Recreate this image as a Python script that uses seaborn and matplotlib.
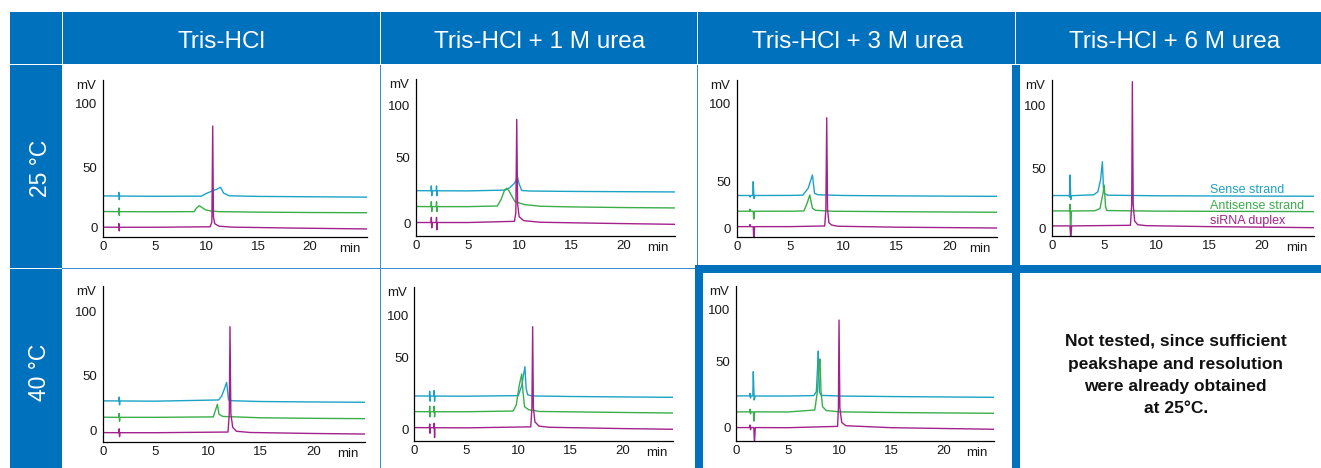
import numpy as np
import pandas as pd
import matplotlib
matplotlib.use("Agg")
import matplotlib.pyplot as plt
from matplotlib.patches import Rectangle
from matplotlib.ticker import MultipleLocator
import seaborn as sns

# ---------------- data (time [min], signal [mV]) ----------------
columns = ["Tris-HCl", "Tris-HCl + 1 M urea", "Tris-HCl + 3 M urea", "Tris-HCl + 6 M urea"]
rows = ["25 °C", "40 °C"]
legend_labels = ["Sense strand", "Antisense strand", "siRNA duplex"]
y_ticks = [0, 50, 100]
x_ticks = [0, 5, 10, 15, 20]
not_tested = ["Not tested, since sufficient", "peakshape and resolution",
              "were already obtained", "at 25°C."]

# 25 °C, Tris-HCl
A_sense = [(0, 26.3), (1.50, 26.2), (1.53, 29.2), (1.57, 23.2), (1.60, 26.2), (5, 26.0), (9.5, 26.1),
           (10.0, 28.4), (10.6, 30.5), (11.0, 31.8), (11.35, 33.4), (11.65, 28.6), (12.2, 26.4),
           (15, 25.9), (20, 25.6), (25.6, 25.3)]
A_anti = [(0, 13.5), (1.50, 13.4), (1.53, 16.4), (1.57, 10.4), (1.60, 13.4), (5, 13.3), (8.8, 13.4),
          (9.0, 16.0), (9.3, 18.3), (9.6, 16.6), (9.9, 14.9), (10.4, 14.0), (11.2, 13.4), (15, 13.0),
          (20, 12.7), (25.6, 12.5)]
A_duplex = [(0, 0.7), (1.50, 0.6), (1.53, 3.6), (1.57, -2.4), (1.60, 0.6), (5, 0.6), (10.35, 1.0),
            (10.52, 5), (10.6, 82.5), (10.67, 9), (10.8, 3.5), (11.2, 1.5), (12.5, 0.7), (18, 0.0),
            (25.6, -0.8)]
# 25 °C, 1 M urea
B_sense = [(0, 24.9), (1.45, 24.8), (1.48, 28.5), (1.52, 21), (1.55, 24.8), (1.95, 24.8), (1.98, 28.5),
           (2.02, 21), (2.05, 24.8), (5, 24.7), (8.6, 25.3), (9.0, 26.9), (9.5, 30.5), (9.8, 35.1),
           (9.95, 30), (10.2, 25), (11, 24.6), (15, 24.3), (20, 24.1), (25.1, 23.9)]
B_anti = [(0, 12.8), (1.45, 12.7), (1.48, 16.5), (1.52, 9), (1.55, 12.7), (1.95, 12.7), (1.98, 16.5),
          (2.02, 9), (2.05, 12.7), (5, 12.7), (7.85, 13.2), (8.2, 18), (8.55, 25.4), (8.75, 26.7),
          (8.95, 25), (9.55, 16.5), (10.5, 14.2), (12, 13), (15, 12.5), (20, 12), (25.1, 11.7)]
B_duplex = [(0, 0.6), (1.45, 0.6), (1.48, 4.5), (1.52, -3.5), (1.55, 0.6), (1.95, 0.6), (1.98, 4.5),
            (2.02, -5), (2.05, 0.6), (5, 0.6), (9.5, 1.5), (9.63, 8), (9.72, 86.4), (9.8, 15),
            (9.95, 5), (10.4, 2), (12, 0.8), (18, 0), (25.1, -0.8)]
# 25 °C, 3 M urea
C_sense = [(0, 35.2), (1.2, 35.2), (1.25, 33.5), (1.3, 35.2), (1.5, 35.2), (1.55, 50), (1.62, 32),
           (1.7, 35.2), (5, 35.3), (6.2, 35.6), (6.7, 42.9), (7.1, 54.3), (7.3, 37.5), (7.6, 36),
           (10, 35.2), (15, 34.8), (20, 34.5), (24.5, 34.3)]
C_anti = [(0, 18.3), (1.2, 18.3), (1.25, 20.5), (1.3, 18.3), (1.55, 18.3), (1.6, 10), (1.67, 18.3),
          (5, 18.3), (6.3, 18.6), (6.6, 26.8), (6.85, 35.7), (7.1, 21.5), (7.4, 19.3), (9, 18.3),
          (15, 17.8), (24.5, 17.2)]
C_duplex = [(0, 1.8), (1.2, 1.8), (1.25, 4), (1.3, 1.8), (1.55, 1.8), (1.6, -12), (1.68, 1.8), (5, 1.8),
            (8.25, 2.5), (8.36, 20), (8.44, 90.8), (8.52, 20), (8.65, 6), (8.9, 3.5), (9.5, 2.2),
            (15, 1.2), (24.5, 0.3)]
# 25 °C, 6 M urea
D_sense = [(0, 27.3), (1.65, 27.3), (1.7, 26), (1.75, 44.4), (1.82, 24), (1.9, 27.2), (4.0, 27.9),
           (4.4, 30.5), (4.65, 40.3), (4.83, 55.2), (4.92, 34.7), (5.0, 29.2), (5.3, 27.6), (10, 27.1),
           (25.1, 26.7)]
D_anti = [(0, 14.5), (1.7, 14.5), (1.74, 20), (1.8, -8), (1.88, 14.4), (4.1, 14.6), (4.6, 16.5),
          (4.9, 30), (5.0, 36), (5.13, 18), (5.25, 14.8), (10, 14.3), (25.1, 13.9)]
D_duplex = [(0, 2.0), (1.75, 2.0), (1.82, -8), (1.9, 2.0), (7.5, 2.5), (7.62, 20), (7.68, 118.4),
            (7.76, 20), (7.9, 6), (8.2, 3), (9, 2.2), (15, 1.4), (25.1, 0.5)]
# 40 °C, Tris-HCl
E_sense = [(0, 26.8), (1.53, 26.7), (1.56, 30.2), (1.6, 23.2), (1.63, 26.7), (5, 26.5), (11.0, 27.6),
           (11.3, 31.1), (11.55, 37.4), (11.77, 43.4), (11.95, 27.6), (12.3, 26.9), (15, 26.2),
           (20, 25.8), (25, 25.5)]
E_anti = [(0, 12.1), (1.53, 12.0), (1.56, 15.5), (1.6, 8.5), (1.63, 12.0), (5, 12), (10.5, 12.4),
          (10.75, 19.5), (10.89, 23.7), (11.05, 14.7), (11.4, 12.8), (15, 11.6), (20, 11.1), (25, 10.8)]
E_duplex = [(0, -1.7), (1.53, -1.8), (1.56, 1.7), (1.6, -5.3), (1.63, -1.8), (5, -1.8), (11.9, -1.2),
            (12.02, 15), (12.09, 88.2), (12.17, 15), (12.35, 3), (12.7, -0.5), (14, -1.6),
            (20, -2.5), (25, -3)]
# 40 °C, 1 M urea
F_sense = [(0, 23.2), (1.45, 23.1), (1.48, 26.5), (1.52, 19.5), (1.55, 23.1), (1.88, 23.1), (1.91, 27),
           (1.95, 19.5), (1.98, 23.1), (5, 23.0), (10.0, 23.4), (10.35, 30.9), (10.5, 37.9),
           (10.64, 43.7), (10.75, 28.5), (10.9, 24), (11.3, 23.2), (15, 22.8), (20, 22.5), (25, 22.2)]
F_anti = [(0, 12.2), (1.45, 12.1), (1.48, 16), (1.52, 8.5), (1.55, 12.1), (1.88, 12.1), (1.91, 16),
          (1.95, 8.5), (1.98, 12.1), (5, 12.1), (9.5, 12.6), (9.8, 16.8), (10.1, 30.9), (10.33, 38.6),
          (10.45, 26.2), (10.6, 15.6), (11.0, 13.5), (12, 12.3), (20, 11.6), (25, 11.2)]
F_duplex = [(0, 1.0), (1.45, 0.9), (1.48, 3.5), (1.52, -3), (1.55, 0.9), (1.88, 0.9), (1.91, 4),
            (1.95, -6), (1.98, 0.9), (5, 0.8), (11.2, 1.5), (11.31, 15), (11.38, 86.3), (11.45, 15),
            (11.6, 5), (12, 2), (13, 1.2), (20, 0.3), (25, -0.2)]
# 40 °C, 3 M urea
G_sense = [(0, 24.1), (1.3, 24.1), (1.35, 26), (1.4, 22.5), (1.45, 24.1), (1.62, 24.1), (1.67, 42.4),
           (1.75, 21), (1.85, 24), (5, 24), (7.5, 24.3), (7.75, 27.3), (7.88, 47.5), (7.94, 60.3),
           (8.05, 27.3), (8.2, 24.5), (10, 24), (15, 23.6), (25, 23.0)]
G_anti = [(0, 12), (1.3, 12), (1.35, 14), (1.4, 10.5), (1.45, 12), (1.68, 12), (1.73, 5), (1.8, 12),
          (5, 11.9), (7.6, 13.4), (7.85, 27.3), (8.0, 45), (8.1, 52.6), (8.2, 28), (8.35, 16),
          (8.7, 13), (10, 12), (15, 11.5), (25, 10.9)]
G_duplex = [(0, 0.1), (1.3, 0.1), (1.35, 2), (1.4, -1.5), (1.45, 0.1), (1.72, 0.1), (1.78, -12),
            (1.86, 0.1), (5, 0), (9.8, 1), (9.88, 15), (9.94, 90.3), (10.02, 15), (10.2, 4),
            (10.6, 1.5), (15, 0), (25, -1.2)]

panel_series = {
    "A": (A_sense, A_anti, A_duplex), "B": (B_sense, B_anti, B_duplex),
    "C": (C_sense, C_anti, C_duplex), "D": (D_sense, D_anti, D_duplex),
    "E": (E_sense, E_anti, E_duplex), "F": (F_sense, F_anti, F_duplex),
    "G": (G_sense, G_anti, G_duplex),
}

# ---------------- layout (figure pixels) ----------------
W, H = 1321, 468
# left px, px of t=20, right px, top px, bottom px, px of 0 / 50 / 100 mV
layout = {
    "A": (103, 310, 367, 80, 237, 228, 167, 104),
    "B": (416, 623.3, 675, 79, 235.7, 223.3, 157.7, 105),
    "C": (736.7, 950, 996.7, 80, 236.7, 228.3, 181.7, 103.3),
    "D": (1051.7, 1261.7, 1314, 80, 236, 228.3, 168.3, 105),
    "E": (102.7, 313.3, 365, 285.7, 441.7, 430.7, 375, 311.7),
    "F": (414.3, 622.3, 673.3, 286.7, 440.7, 429, 357.7, 315),
    "G": (736, 943.3, 994, 285.7, 440.7, 427.7, 361.7, 310),
}

BLUE = "#0071BC"
THIN = "#3D8ED3"
COLORS = ["#1BA3C6", "#3AAE49", "#A2228D"]

sns.set_style("white")
plt.rcParams["font.family"] = ["Liberation Sans", "DejaVu Sans"]

fig = plt.figure(figsize=(W / 100, H / 100), dpi=100)
fig.patch.set_facecolor("white")


def rect(x0, y0, x1, y1, color, z=0):
    fig.add_artist(Rectangle((x0 / W, 1 - y1 / H), (x1 - x0) / W, (y1 - y0) / H,
                             transform=fig.transFigure, facecolor=color, edgecolor="none", zorder=z))


# header and row label blocks
rect(10, 12, 62, 64, BLUE)
for x0, x1 in [(63, 380), (381, 697), (698, 1015), (1016, 1321)]:
    rect(x0, 12, x1, 64, BLUE)
rect(10, 65, 62, 268, BLUE)
rect(10, 269, 62, 468, BLUE)
# thin cell borders
rect(379.5, 65, 380.7, 468, THIN)
rect(696.5, 65, 697.7, 268, THIN)
rect(62, 267.5, 697, 268.7, THIN)
# thick borders
rect(1012, 65, 1020, 468, BLUE)
rect(695, 265, 1321, 273, BLUE)
rect(695, 265, 703, 468, BLUE)


def px_text(x, y, s, **kw):
    fig.text(x / W, 1 - y / H, s, **kw)


header_x = [221.7, 540, 857.5, 1174.5]
for cx, lab in zip(header_x, columns):
    px_text(cx, 48.3, lab, ha="center", va="baseline", color="white", fontsize=17.5)
for (bx, cy), lab in zip([(46.7, 168.3), (45.5, 372.5)], rows):
    px_text(bx, cy, lab, ha="center", va="baseline", color="white", fontsize=16.5,
            rotation=90, rotation_mode="anchor")

for yb, line in zip([345.7, 369, 390.7, 413.3], not_tested):
    px_text(1175.7, yb, line, ha="center", va="baseline", color="#111111",
            fontsize=12.5, fontweight="bold")

for yb, lab, c in zip([192.7, 209.3, 224], legend_labels, COLORS):
    px_text(1210, yb, lab, ha="left", va="baseline", color=c, fontsize=9)


def make_scale(k1, k2):
    def fwd(v):
        v = np.asarray(v, dtype=float)
        return np.where(v <= 50, v * k1, 50 * k1 + (v - 50) * k2)

    def inv(u):
        u = np.asarray(u, dtype=float)
        return np.where(u <= 50 * k1, u / k1, 50 + (u - 50 * k1) / k2)
    return fwd, inv


for key, (left, x20, right, top, bottom, p0, p50, p100) in layout.items():
    ax = fig.add_axes([left / W, 1 - bottom / H, (right - left) / W, (bottom - top) / H])
    ax.set_facecolor("none")
    for series, c in zip(panel_series[key], COLORS):
        df = pd.DataFrame(series, columns=["t", "mV"])
        sns.lineplot(data=df, x="t", y="mV", ax=ax, color=c, linewidth=1.0,
                     estimator=None, sort=False)
    k1 = (p0 - p50) / 50
    k2 = (p50 - p100) / 50
    ax.set_yscale("function", functions=make_scale(k1, k2))
    ppm = (x20 - left) / 20
    ax.set_xlim(0, (right - left) / ppm)
    ax.set_ylim(-(bottom - p0) / k1, 50 + (p50 - top) / k2)
    sns.despine(ax=ax)
    for sp in ["left", "bottom"]:
        ax.spines[sp].set_linewidth(0.9)
        ax.spines[sp].set_color("black")
    ax.set_xticks(x_ticks)
    ax.set_xticklabels([str(v) for v in x_ticks])
    ax.set_yticks(y_ticks)
    ax.set_yticklabels([str(v) for v in y_ticks])
    ax.xaxis.set_minor_locator(MultipleLocator(0.5))
    ax.yaxis.set_minor_locator(MultipleLocator(2.5))
    ax.tick_params(which="major", direction="in", length=4, width=0.8, labelsize=9.5,
                   colors="black", labelcolor="#1a1a1a")
    ax.tick_params(which="minor", direction="in", length=2, width=0.6, colors="black")
    ax.tick_params(axis="y", which="major", pad=4)
    ax.tick_params(axis="x", which="major", pad=3)
    ax.set_xlabel("")
    ax.set_ylabel("")
    ax.annotate("mV", xy=(0, 1), xycoords="axes fraction", xytext=(-7, -6),
                textcoords="offset pixels", ha="right", va="center", fontsize=9.5, color="#1a1a1a")
    ax.annotate("min", xy=(1, 0), xycoords="axes fraction", xytext=(-6, -12),
                textcoords="offset pixels", ha="right", va="center", fontsize=9.5, color="#1a1a1a")

fig.savefig("out.png", dpi=100, facecolor="white")
